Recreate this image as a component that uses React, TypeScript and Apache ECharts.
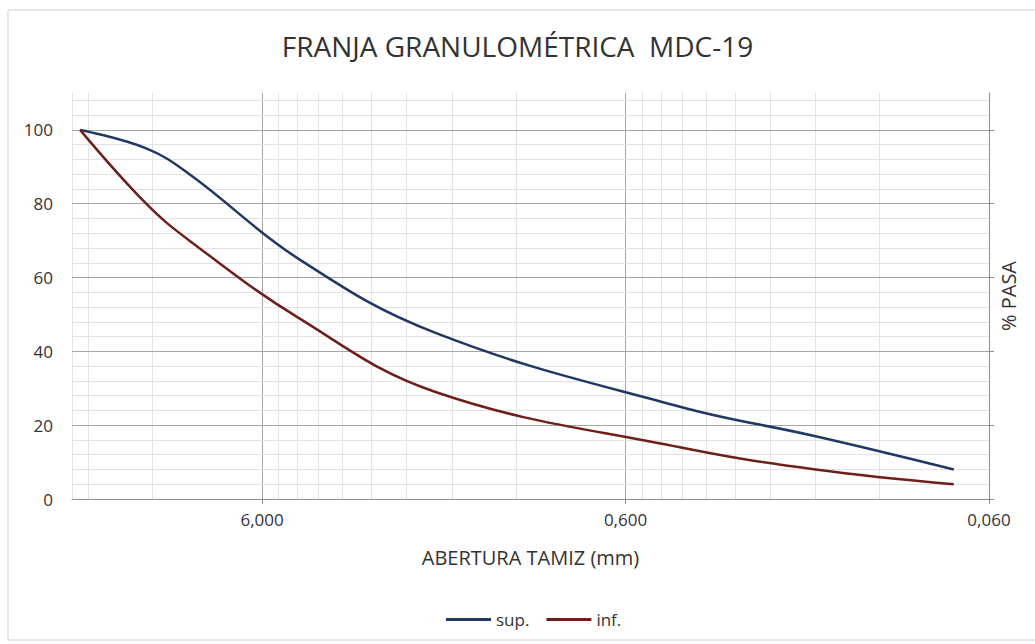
import React, { useEffect, useRef } from "react";
import * as echarts from "echarts";

const sieveSizes = [19, 12.5, 9.5, 4.75, 2.0, 0.425, 0.18, 0.075];
const supValues = [100, 95, 88, 65, 45, 25, 17, 8];
const infValues = [100, 80, 70, 49, 29, 14, 8, 4];
const xTickValues = [6, 0.6, 0.06];
const yTickValues = [0, 20, 40, 60, 80, 100];
const xMin = 0.06;
const xMax = 20;
const yMin = 0;
const yMax = 110;

const FONT = "'Open Sans', sans-serif";

export default function App() {
  const ref = useRef<HTMLDivElement>(null);
  useEffect(() => {
    if (!ref.current) return;
    const chart = echarts.init(ref.current, null, { renderer: "svg" });

    const minorColor = "#e3e3e3";
    const majorColor = "#a6a6a6";
    const gridLines: any[] = [];
    for (let dec = xMin; dec < xMax; dec *= 10) {
      for (let k = 1; k <= 9; k++) {
        const v = +(dec * k).toPrecision(6);
        if (v <= xMin || v > xMax) continue;
        const isMajor = k === 1;
        gridLines.push({ xAxis: v, lineStyle: { color: isMajor ? majorColor : minorColor, width: 1, type: "solid" } });
      }
    }
    gridLines.push({ xAxis: xMax, lineStyle: { color: minorColor, width: 1, type: "solid" } });
    for (let v = yMin + 4; v < yMax; v += 4) {
      const isMajor = yTickValues.indexOf(v) >= 0;
      gridLines.push({ yAxis: v, lineStyle: { color: isMajor ? majorColor : minorColor, width: 1, type: "solid" } });
    }
    yTickValues.forEach((v) => {
      if (v > yMin && v % 4 !== 0) gridLines.push({ yAxis: v, lineStyle: { color: majorColor, width: 1, type: "solid" } });
    });

    const option: any = {
      animation: false,
      backgroundColor: "#ffffff",
      title: {
        text: "FRANJA GRANULOMÉTRICA  MDC-19",
        left: "center",
        top: 27,
        textStyle: { fontFamily: FONT, fontSize: 28, fontWeight: "normal", color: "#333333" },
      },
      graphic: [
        {
          type: "rect",
          shape: { x: 8, y: 10, width: 1060, height: 630 },
          style: { fill: "none", stroke: "#d0d0d0", lineWidth: 1 },
          silent: true,
          z: -1,
        },
      ],
      legend: {
        data: [
          { name: "sup.", icon: "rect" },
          { name: "inf.", icon: "rect" },
        ],
        left: 441,
        top: 606,
        itemWidth: 45,
        itemHeight: 3,
        itemGap: 17,
        textStyle: { fontFamily: FONT, fontSize: 17, color: "#333333" },
      },
      grid: { left: 72, right: 46, top: 93, bottom: 145, containLabel: false },
      xAxis: {
        type: "log",
        logBase: 10,
        min: xMin,
        max: xMax,
        inverse: true,
        name: "ABERTURA TAMIZ (mm)",
        nameLocation: "middle",
        nameGap: 48,
        nameTextStyle: { fontFamily: FONT, fontSize: 20, color: "#333333" },
        axisLine: { show: true, lineStyle: { color: "#8c8c8c", width: 1 } },
        axisTick: { show: true, length: 5, inside: false, customValues: xTickValues, lineStyle: { color: "#8c8c8c" } },
        axisLabel: {
          customValues: xTickValues,
          fontFamily: FONT,
          fontSize: 17,
          color: "#333333",
          margin: 12,
          formatter: (v: any) => Number(v).toFixed(3).replace(".", ","),
        },
        splitLine: { show: false },
        minorTick: { show: false },
      },
      yAxis: [
        {
          type: "value",
          min: yMin,
          max: yMax,
          interval: 20,
          position: "left",
          axisLine: { show: false },
          axisTick: { show: false },
          splitLine: { show: false },
          axisLabel: {
            fontFamily: FONT,
            fontSize: 17,
            color: "#333333",
            margin: 19,
            formatter: (v: number) => (v > 100 ? "" : String(v)),
          },
        },
        {
          type: "value",
          min: yMin,
          max: yMax,
          interval: 20,
          position: "right",
          name: "% PASA",
          nameLocation: "middle",
          nameGap: 9,
          nameTextStyle: { fontFamily: FONT, fontSize: 20, color: "#333333" },
          axisLine: { show: true, lineStyle: { color: "#8c8c8c", width: 1 } },
          axisTick: { show: true, length: 5, inside: false, customValues: yTickValues, lineStyle: { color: "#8c8c8c" } },
          axisLabel: { show: false },
          splitLine: { show: false },
        },
      ],
      series: [
        {
          name: "grid",
          type: "line",
          data: [],
          z: 1,
          silent: true,
          markLine: {
            z: 1,
            silent: true,
            symbol: ["none", "none"],
            label: { show: false },
            emphasis: { disabled: true },
            data: gridLines,
          },
        },
        {
          name: "sup.",
          type: "line",
          z: 3,
          smooth: 0.4,
          showSymbol: false,
          symbol: "none",
          lineStyle: { color: "#1f3864", width: 2.5 },
          itemStyle: { color: "#1f3864" },
          data: sieveSizes.map((s, i) => [s, supValues[i]]),
        },
        {
          name: "inf.",
          type: "line",
          z: 3,
          smooth: 0.4,
          showSymbol: false,
          symbol: "none",
          lineStyle: { color: "#6e1f1a", width: 2.5 },
          itemStyle: { color: "#6e1f1a" },
          data: sieveSizes.map((s, i) => [s, infValues[i]]),
        },
      ],
    };
    chart.setOption(option);
    return () => chart.dispose();
  }, []);
  return (
    <div
      ref={ref}
      style={{ position: "fixed", left: 0, top: 0, width: 1035, height: 644 }}
    />
  );
}
